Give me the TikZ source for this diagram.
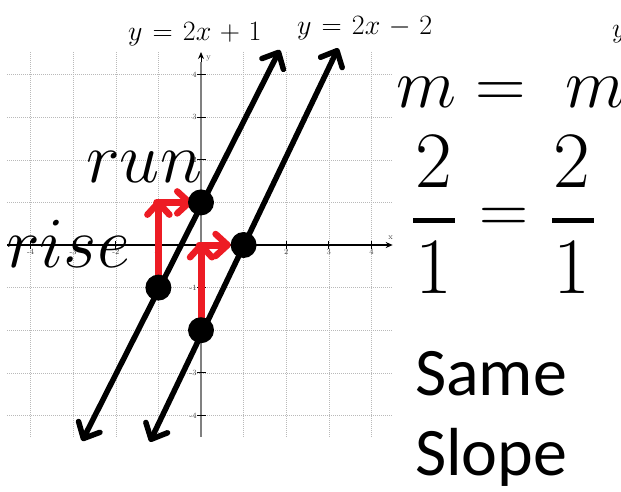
\RequirePackage{fix-cm}
\documentclass[tikz,border=0pt]{standalone}
\usepackage{amsmath}
\usepackage{fontspec}
\newfontfamily\calibri{Carlito}
\usetikzlibrary{arrows.meta}
\definecolor{redarrow}{RGB}{237,28,36}
\definecolor{axisgray}{RGB}{128,128,128}
\begin{document}
\begin{tikzpicture}[x=1pt,y=-1pt,
  gridline/.style={gray!55, line width=0.6pt, dash pattern=on 1pt off 1pt},
  ticklabel/.style={font=\fontsize{8}{8}\selectfont, text=black!75, inner sep=0pt},
  blackline/.style={line width=5.5pt, line cap=round,
    {Straight Barb[length=13pt,width=24pt,line width=5.5pt,line cap=round,line join=round]}-{Straight Barb[length=13pt,width=24pt,line width=5.5pt,line cap=round,line join=round]}},
  redarr/.style={redarrow, line width=7pt, line cap=round,
    -{Straight Barb[length=12pt,width=22pt,line width=6.5pt,line cap=round,line join=round]}},
  dot/.style={circle, fill=black, minimum size=26pt, inner sep=0pt},
  bigmath/.style={anchor=base west, inner sep=0pt, font=\fontsize{72}{72}\selectfont},
  fracdigit/.style={anchor=base, inner sep=0pt, font=\fontsize{80}{80}\selectfont},
  fracbar/.style={fill=black},
  eqlabel/.style={anchor=base west, inner sep=0pt, font=\fontsize{28}{28}\selectfont},
  sametext/.style={anchor=base west, inner sep=0pt, font=\calibri\fontsize{68}{68}\selectfont}]
\useasboundingbox (0,0) rectangle (621,491);
\fill[white] (0,0) rectangle (621,491);
\begin{scope}
\clip (0,0) rectangle (621,491);
\begin{scope}[shift={(201,245)}, x=42.6pt, y=42.6pt]
  % grid
  \foreach \i in {-4,-3,-2,-1,1,2,3,4} {
    \draw[gridline] (\i,-4.5) -- (\i,4.53);
    \draw[gridline] (-4.55,\i) -- (4.5,\i);
  }
  % axes
  \coordinate (xl) at (-4.55,0);
  \coordinate (xr) at (4.5,0);
  \coordinate (yb) at (0,-4.5);
  \coordinate (yt) at (0,4.53);
  \draw[axisgray, line width=2pt] (yb) -- (0,4.3);
  \draw[line width=0.8pt, -{Stealth[length=7pt,width=6pt]}] (0,4.3) -- (yt);
  \draw[line width=1.2pt, -{Stealth[length=7pt,width=6pt]}] (xl) -- (xr);
  \node[ticklabel, anchor=south west] (ylab) at (0.12,4.3) {y};
  \node[ticklabel, anchor=south] (xlab) at (4.45,0.12) {x};
  % ticks
  \foreach \i in {-4,-3,-2,-1,1,2,3,4} {
    \draw[line width=0.7pt] (\i,-0.09) -- (\i,0.09);
    \draw[line width=0.7pt] (-0.09,\i) -- (0.12,\i);
    \node[ticklabel, anchor=north] at (\i,-0.1) {\i};
    \node[ticklabel, anchor=east] at (-0.1,\i) {\i};
  }
  % lines
  \coordinate (l1b) at (-2.79,-4.60);
  \coordinate (l1t) at (1.85,4.58);
  \coordinate (l2b) at (-1.20,-4.62);
  \coordinate (l2t) at (3.22,4.62);
  \draw[blackline] (l1b) -- (l1t);
  \draw[blackline] (l2b) -- (l2t);
  % red rise/run arrows
  \coordinate (c1) at (-1,1.07);
  \coordinate (h1s) at (-1.04,1);
  \coordinate (h1e) at (-0.2,1);
  \coordinate (c2) at (0,0.07);
  \coordinate (h2s) at (-0.04,0);
  \coordinate (h2e) at (0.7,0);
  \coordinate (p1) at (-1,-1);
  \coordinate (p3) at (0,-2);
  \draw[redarr] (p1) -- (c1);
  \draw[redarr] (h1s) -- (h1e);
  \draw[redarr] (p3) -- (c2);
  \draw[redarr] (h2s) -- (h2e);
  % dots
  \node[dot] (d1) at (-1,-1) {};
  \node[dot] (d2) at (0,1) {};
  \node[dot] (d3) at (0,-2) {};
  \node[dot] (d4) at (1,0) {};
\end{scope}
% texts
\node[bigmath] (run) at (86,182) {$run$};
\node[bigmath] (rise) at (6,267) {$rise$};
\node[eqlabel] (eq1) at (128,40) {$y \mkern1.5mu=\mkern1.5mu 2x \mkern1.5mu+\mkern1.5mu 1$};
\node[eqlabel] (eq2) at (297,34) {$y \mkern1.5mu=\mkern1.5mu 2x \mkern1.5mu-\mkern1.5mu 2$};
\node[eqlabel] (eq3) at (612,37) {$y$};
\node[bigmath, font=\fontsize{70}{70}\selectfont] (mm) at (396,107) {$m = \hspace{20pt}m$};
% fractions 2/1 = 2/1
\node[fracdigit] (n1) at (434,187) {2};
\node[fracdigit] (dn1) at (434,293) {1};
\fill[fracbar] (413,217.5) rectangle (455,222.5);
\node[inner sep=0pt, font=\fontsize{68}{68}\selectfont] (eqs) at (504,220) {$=$};
\node[fracdigit] (n2) at (572,187) {2};
\node[fracdigit] (dn2) at (572,293) {1};
\fill[fracbar] (552,217.5) rectangle (594,222.5);
\node[sametext] (same) at (415,395) {Same};
\node[sametext] (slope) at (415,475) {Slope};
\end{scope}
\end{tikzpicture}
\end{document}
